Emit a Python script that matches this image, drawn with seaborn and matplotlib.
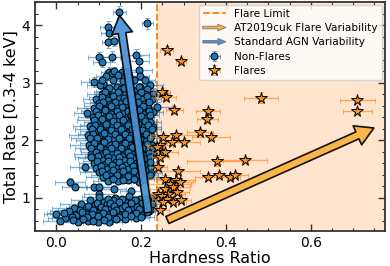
import matplotlib
matplotlib.use("Agg")
import matplotlib.pyplot as plt
import matplotlib.patches as mpatches
from matplotlib.lines import Line2D
from matplotlib.legend_handler import HandlerPatch
from matplotlib.ticker import MultipleLocator
import seaborn as sns

# Non-flare points: sparse top, dense cloud, a few stragglers, low band
nf_x = [0.149, 0.215, 0.121, 0.125, 0.123, 0.135, 0.131, 0.100, 0.107, 0.188,
        0.194, 0.196, 0.125, 0.131, 0.155, 0.089, 0.111, 0.229, 0.237, 0.072,
        0.103, 0.142, 0.171, 0.198, 0.221,
        0.118, 0.153, 0.186, 0.213,
        0.107, 0.131, 0.162, 0.191, 0.209,
        0.094, 0.121, 0.146, 0.176, 0.203, 0.226,
        0.101, 0.127, 0.152, 0.181, 0.206,
        0.088, 0.116, 0.141, 0.167, 0.192, 0.217,
        0.099, 0.129, 0.156, 0.182, 0.204, 0.227,
        0.086, 0.112, 0.137, 0.161, 0.188, 0.211,
        0.096, 0.121, 0.146, 0.171, 0.196, 0.222,
        0.079, 0.104, 0.131, 0.157, 0.179, 0.206, 0.228,
        0.091, 0.116, 0.139, 0.166, 0.191, 0.214,
        0.074, 0.101, 0.126, 0.149, 0.176, 0.199, 0.224,
        0.086, 0.109, 0.136, 0.161, 0.184, 0.211,
        0.078, 0.102, 0.124, 0.151, 0.174, 0.201, 0.226,
        0.091, 0.114, 0.141, 0.164, 0.189, 0.216,
        0.081, 0.106, 0.129, 0.156, 0.179, 0.204, 0.229,
        0.086, 0.111, 0.134, 0.159, 0.186, 0.209,
        0.089, 0.116, 0.141, 0.164, 0.191, 0.214,
        0.094, 0.119, 0.146, 0.169, 0.194, 0.221,
        0.101, 0.126, 0.149, 0.176, 0.199, 0.224,
        0.109, 0.136, 0.161, 0.184, 0.211,
        0.121, 0.146, 0.169, 0.196,
        0.033, 0.043, 0.088, 0.100, 0.100, 0.135, 0.175,
        0.101, 0.139, 0.171, 0.198, 0.224,
        0.079, 0.112, 0.134, 0.161, 0.189, 0.216,
        0.058, 0.091, 0.119, 0.151, 0.174, 0.201, 0.226,
        0.041, 0.069, 0.102, 0.126, 0.154, 0.181, 0.209,
        0.031, 0.056, 0.084, 0.111, 0.139, 0.166, 0.191, 0.219,
        0.000, 0.046, 0.071, 0.096, 0.121, 0.149, 0.176, 0.201,
        0.021, 0.061, 0.086, 0.109, 0.136, 0.161, 0.188,
        0.009, 0.051, 0.074, 0.099, 0.124]
nf_y = [4.23, 4.03, 3.97, 3.87, 3.71, 3.72, 3.45, 3.44, 3.36, 3.48,
        3.37, 3.22, 3.19, 3.17, 3.19, 3.01, 2.98, 2.81, 2.58, 2.47,
        2.96, 2.93, 2.97, 2.92, 2.95,
        2.86, 2.89, 2.85, 2.88,
        2.80, 2.77, 2.81, 2.78, 2.80,
        2.72, 2.70, 2.73, 2.69, 2.72, 2.71,
        2.64, 2.62, 2.65, 2.61, 2.63,
        2.56, 2.54, 2.57, 2.53, 2.56, 2.55,
        2.48, 2.45, 2.47, 2.49, 2.46, 2.48,
        2.40, 2.38, 2.41, 2.37, 2.40, 2.39,
        2.32, 2.30, 2.33, 2.29, 2.31, 2.32,
        2.24, 2.22, 2.25, 2.21, 2.24, 2.22, 2.23,
        2.16, 2.14, 2.17, 2.13, 2.16, 2.15,
        2.08, 2.06, 2.09, 2.05, 2.08, 2.06, 2.07,
        2.00, 1.98, 2.01, 1.97, 2.00, 1.99,
        1.92, 1.90, 1.93, 1.89, 1.92, 1.90, 1.91,
        1.84, 1.82, 1.85, 1.81, 1.84, 1.83,
        1.76, 1.74, 1.77, 1.73, 1.76, 1.74, 1.75,
        1.68, 1.66, 1.69, 1.65, 1.68, 1.67,
        1.60, 1.58, 1.61, 1.57, 1.60, 1.59,
        1.52, 1.50, 1.53, 1.49, 1.52, 1.51,
        1.44, 1.42, 1.45, 1.41, 1.44, 1.43,
        1.36, 1.34, 1.37, 1.33, 1.35,
        1.29, 1.28, 1.30, 1.27,
        1.27, 1.19, 1.18, 1.19, 1.07, 1.15, 1.12,
        1.01, 0.99, 1.02, 0.98, 1.00,
        0.95, 0.93, 0.96, 0.92, 0.94, 0.95,
        0.88, 0.87, 0.89, 0.86, 0.88, 0.87, 0.89,
        0.82, 0.81, 0.83, 0.80, 0.82, 0.81, 0.83,
        0.76, 0.75, 0.77, 0.74, 0.76, 0.75, 0.77, 0.76,
        0.72, 0.70, 0.71, 0.69, 0.71, 0.70, 0.72, 0.69,
        0.64, 0.63, 0.65, 0.62, 0.64, 0.63, 0.65,
        0.60, 0.58, 0.59, 0.57, 0.58]
nf_xerr = [0.015, 0.012, 0.018, 0.02, 0.015, 0.014, 0.02, 0.025, 0.02, 0.03,
           0.025, 0.03, 0.02, 0.018, 0.022, 0.03, 0.028, 0.04, 0.035, 0.03,
           0.03, 0.02, 0.025, 0.02, 0.03,
           0.025, 0.02, 0.03, 0.025,
           0.035, 0.02, 0.025, 0.03, 0.02,
           0.03, 0.025, 0.02, 0.03, 0.025, 0.02,
           0.035, 0.02, 0.025, 0.02, 0.03,
           0.04, 0.025, 0.02, 0.03, 0.025, 0.02,
           0.03, 0.02, 0.025, 0.03, 0.02, 0.025,
           0.035, 0.025, 0.02, 0.025, 0.03, 0.02,
           0.03, 0.02, 0.025, 0.02, 0.03, 0.025,
           0.04, 0.03, 0.02, 0.025, 0.02, 0.03, 0.02,
           0.035, 0.025, 0.02, 0.03, 0.025, 0.02,
           0.045, 0.03, 0.025, 0.02, 0.03, 0.025, 0.02,
           0.04, 0.025, 0.02, 0.03, 0.02, 0.025,
           0.045, 0.03, 0.02, 0.025, 0.03, 0.02, 0.02,
           0.035, 0.025, 0.03, 0.02, 0.025, 0.02,
           0.04, 0.03, 0.025, 0.02, 0.03, 0.025, 0.02,
           0.035, 0.025, 0.02, 0.03, 0.025, 0.02,
           0.035, 0.02, 0.025, 0.03, 0.02, 0.025,
           0.04, 0.025, 0.02, 0.03, 0.025, 0.02,
           0.045, 0.03, 0.025, 0.02, 0.03, 0.025,
           0.04, 0.03, 0.025, 0.02, 0.03,
           0.035, 0.025, 0.03, 0.02,
           0.035, 0.03, 0.04, 0.03, 0.035, 0.03, 0.025,
           0.04, 0.035, 0.03, 0.025, 0.02,
           0.045, 0.035, 0.03, 0.025, 0.03, 0.02,
           0.05, 0.04, 0.035, 0.03, 0.025, 0.03, 0.02,
           0.05, 0.045, 0.035, 0.03, 0.025, 0.03, 0.02,
           0.045, 0.04, 0.035, 0.03, 0.035, 0.025, 0.03, 0.02,
           0.03, 0.045, 0.04, 0.035, 0.03, 0.035, 0.025, 0.02,
           0.04, 0.035, 0.04, 0.03, 0.035, 0.025, 0.03,
           0.04, 0.035, 0.03, 0.035, 0.03]
nf_yerr = [0.10, 0.10, 0.10, 0.09, 0.10, 0.09, 0.10, 0.09, 0.09, 0.10,
           0.09, 0.10, 0.08, 0.08, 0.09, 0.08, 0.08, 0.09, 0.08, 0.08,
           0.08, 0.07, 0.08, 0.07, 0.08,
           0.08, 0.07, 0.08, 0.07,
           0.07, 0.08, 0.07, 0.08, 0.07,
           0.08, 0.07, 0.08, 0.07, 0.08, 0.07,
           0.07, 0.08, 0.07, 0.08, 0.07,
           0.08, 0.07, 0.07, 0.08, 0.07, 0.07,
           0.07, 0.08, 0.07, 0.07, 0.08, 0.07,
           0.07, 0.07, 0.08, 0.07, 0.07, 0.08,
           0.07, 0.07, 0.07, 0.08, 0.07, 0.07,
           0.07, 0.06, 0.07, 0.07, 0.06, 0.07, 0.07,
           0.07, 0.07, 0.06, 0.07, 0.07, 0.06,
           0.07, 0.06, 0.07, 0.06, 0.07, 0.06, 0.07,
           0.06, 0.07, 0.06, 0.07, 0.06, 0.07,
           0.06, 0.07, 0.06, 0.06, 0.07, 0.06, 0.06,
           0.06, 0.06, 0.07, 0.06, 0.06, 0.06,
           0.06, 0.06, 0.06, 0.07, 0.06, 0.06, 0.06,
           0.06, 0.06, 0.06, 0.06, 0.06, 0.06,
           0.06, 0.05, 0.06, 0.06, 0.05, 0.06,
           0.06, 0.05, 0.06, 0.05, 0.06, 0.05,
           0.05, 0.06, 0.05, 0.05, 0.06, 0.05,
           0.05, 0.05, 0.06, 0.05, 0.05,
           0.05, 0.05, 0.05, 0.05,
           0.07, 0.06, 0.06, 0.06, 0.06, 0.06, 0.06,
           0.05, 0.05, 0.05, 0.05, 0.05,
           0.05, 0.05, 0.05, 0.05, 0.05, 0.05,
           0.05, 0.05, 0.04, 0.05, 0.05, 0.04, 0.05,
           0.05, 0.04, 0.05, 0.04, 0.05, 0.04, 0.05,
           0.04, 0.05, 0.04, 0.05, 0.04, 0.05, 0.04, 0.05,
           0.04, 0.05, 0.04, 0.04, 0.05, 0.04, 0.04, 0.05,
           0.04, 0.04, 0.05, 0.04, 0.04, 0.05, 0.04,
           0.04, 0.04, 0.04, 0.04, 0.04]

# more non-flare points filling the gaps of the dense cloud and low band
core_x = [0.135, 0.165,
          0.118, 0.145, 0.172, 0.198,
          0.108, 0.133, 0.158, 0.183, 0.208,
          0.125, 0.160, 0.195,
          0.115, 0.145, 0.175, 0.200,
          0.108, 0.133, 0.160, 0.190, 0.215,
          0.110, 0.138, 0.165, 0.193, 0.218,
          0.100, 0.128, 0.155, 0.180, 0.205,
          0.093, 0.115, 0.142, 0.170, 0.195, 0.218,
          0.098, 0.124, 0.149, 0.175, 0.200, 0.222,
          0.088, 0.108, 0.133, 0.158, 0.183, 0.209,
          0.092, 0.118, 0.143, 0.168, 0.193, 0.216,
          0.084, 0.103, 0.128, 0.153, 0.178, 0.203, 0.226,
          0.087, 0.113, 0.138, 0.163, 0.188, 0.212,
          0.080, 0.097, 0.122, 0.148, 0.172, 0.198, 0.222,
          0.090, 0.113, 0.138, 0.163, 0.188, 0.213,
          0.083, 0.103, 0.128, 0.153, 0.178, 0.203, 0.227,
          0.093, 0.118, 0.143, 0.168, 0.193, 0.218,
          0.083, 0.098, 0.123, 0.148, 0.173, 0.198, 0.222,
          0.097, 0.123, 0.148, 0.173, 0.198, 0.222,
          0.068, 0.106, 0.131, 0.156, 0.181, 0.206,
          0.108, 0.133, 0.158, 0.183, 0.208,
          0.118, 0.143, 0.170, 0.196, 0.220,
          0.133, 0.158, 0.183, 0.206,
          0.122, 0.155, 0.185, 0.212,
          0.097, 0.126, 0.148, 0.176, 0.203,
          0.075, 0.106, 0.137, 0.163, 0.190, 0.215,
          0.055, 0.086, 0.114, 0.141, 0.168, 0.195, 0.222,
          0.018, 0.060, 0.085, 0.109, 0.134, 0.162, 0.188, 0.213,
          0.036, 0.073, 0.098, 0.122, 0.148, 0.175, 0.200,
          0.040, 0.063, 0.087, 0.112, 0.140]
core_y = [3.20, 3.18,
          3.12, 3.13, 3.11, 3.12,
          3.04, 3.05, 3.03, 3.04, 3.05,
          2.91, 2.90, 2.92,
          2.83, 2.84, 2.82, 2.83,
          2.75, 2.76, 2.74, 2.75, 2.76,
          2.67, 2.66, 2.68, 2.67, 2.66,
          2.59, 2.60, 2.58, 2.59, 2.60,
          2.51, 2.52, 2.50, 2.51, 2.52, 2.50,
          2.43, 2.42, 2.44, 2.43, 2.42, 2.44,
          2.35, 2.36, 2.34, 2.35, 2.36, 2.34,
          2.27, 2.28, 2.26, 2.27, 2.28, 2.26,
          2.19, 2.20, 2.18, 2.19, 2.20, 2.18, 2.19,
          2.11, 2.12, 2.10, 2.11, 2.12, 2.10,
          2.03, 2.04, 2.02, 2.03, 2.04, 2.02, 2.03,
          1.95, 1.96, 1.94, 1.95, 1.96, 1.94,
          1.87, 1.88, 1.86, 1.87, 1.88, 1.86, 1.87,
          1.79, 1.80, 1.78, 1.79, 1.80, 1.78,
          1.71, 1.72, 1.70, 1.71, 1.72, 1.70, 1.71,
          1.63, 1.64, 1.62, 1.63, 1.64, 1.62,
          1.53, 1.55, 1.56, 1.54, 1.55, 1.56,
          1.47, 1.48, 1.46, 1.47, 1.48,
          1.39, 1.40, 1.38, 1.39, 1.40,
          1.32, 1.31, 1.33, 1.32,
          0.97, 0.98, 0.96, 0.97,
          0.91, 0.90, 0.92, 0.91, 0.90,
          0.85, 0.84, 0.86, 0.85, 0.84, 0.86,
          0.79, 0.78, 0.80, 0.79, 0.78, 0.80, 0.79,
          0.73, 0.74, 0.72, 0.73, 0.74, 0.72, 0.73, 0.74,
          0.67, 0.66, 0.68, 0.67, 0.66, 0.68, 0.67,
          0.61, 0.62, 0.60, 0.61, 0.62]
core_xerr = [0.02, 0.025,
             0.025, 0.02, 0.025, 0.02,
             0.03, 0.02, 0.025, 0.02, 0.025,
             0.02, 0.025, 0.02,
             0.025, 0.02, 0.025, 0.02,
             0.03, 0.02, 0.025, 0.02, 0.025,
             0.03, 0.025, 0.02, 0.025, 0.02,
             0.035, 0.02, 0.025, 0.02, 0.025,
             0.035, 0.025, 0.02, 0.025, 0.02, 0.025,
             0.03, 0.025, 0.02, 0.025, 0.02, 0.02,
             0.04, 0.025, 0.02, 0.025, 0.02, 0.025,
             0.035, 0.025, 0.02, 0.025, 0.02, 0.02,
             0.04, 0.03, 0.025, 0.02, 0.025, 0.02, 0.02,
             0.035, 0.025, 0.02, 0.025, 0.02, 0.025,
             0.045, 0.03, 0.025, 0.02, 0.025, 0.02, 0.02,
             0.035, 0.025, 0.02, 0.025, 0.02, 0.025,
             0.04, 0.03, 0.025, 0.02, 0.025, 0.02, 0.02,
             0.035, 0.025, 0.02, 0.025, 0.02, 0.025,
             0.04, 0.03, 0.025, 0.02, 0.025, 0.02, 0.02,
             0.035, 0.025, 0.02, 0.025, 0.02, 0.02,
             0.035, 0.04, 0.025, 0.02, 0.025, 0.02,
             0.04, 0.025, 0.02, 0.025, 0.02,
             0.035, 0.025, 0.02, 0.025, 0.02,
             0.035, 0.025, 0.02, 0.025,
             0.035, 0.03, 0.025, 0.02,
             0.04, 0.035, 0.03, 0.025, 0.02,
             0.045, 0.04, 0.035, 0.03, 0.025, 0.02,
             0.05, 0.04, 0.035, 0.03, 0.025, 0.03, 0.02,
             0.04, 0.045, 0.04, 0.035, 0.03, 0.025, 0.03, 0.02,
             0.045, 0.04, 0.035, 0.03, 0.035, 0.025, 0.03,
             0.04, 0.035, 0.04, 0.03, 0.035]
core_yerr = [0.08, 0.08,
             0.08, 0.07, 0.08, 0.07,
             0.07, 0.08, 0.07, 0.08, 0.07,
             0.07, 0.07, 0.07,
             0.07, 0.07, 0.07, 0.07,
             0.07, 0.07, 0.07, 0.07, 0.07,
             0.07, 0.07, 0.07, 0.07, 0.07,
             0.07, 0.07, 0.07, 0.07, 0.07,
             0.07, 0.07, 0.07, 0.07, 0.07, 0.07,
             0.07, 0.07, 0.07, 0.07, 0.07, 0.07,
             0.06, 0.07, 0.06, 0.07, 0.06, 0.07,
             0.06, 0.07, 0.06, 0.07, 0.06, 0.07,
             0.06, 0.06, 0.06, 0.06, 0.06, 0.06, 0.06,
             0.06, 0.06, 0.06, 0.06, 0.06, 0.06,
             0.06, 0.06, 0.06, 0.06, 0.06, 0.06, 0.06,
             0.06, 0.06, 0.06, 0.06, 0.06, 0.06,
             0.06, 0.06, 0.06, 0.06, 0.06, 0.06, 0.06,
             0.06, 0.06, 0.06, 0.06, 0.06, 0.06,
             0.06, 0.06, 0.06, 0.06, 0.06, 0.06, 0.06,
             0.05, 0.06, 0.05, 0.06, 0.05, 0.06,
             0.06, 0.05, 0.06, 0.05, 0.06, 0.05,
             0.05, 0.05, 0.05, 0.05, 0.05,
             0.05, 0.05, 0.05, 0.05, 0.05,
             0.05, 0.05, 0.05, 0.05,
             0.05, 0.05, 0.05, 0.05,
             0.05, 0.05, 0.05, 0.05, 0.05,
             0.05, 0.04, 0.05, 0.04, 0.05, 0.04,
             0.04, 0.05, 0.04, 0.05, 0.04, 0.05, 0.04,
             0.04, 0.04, 0.05, 0.04, 0.04, 0.05, 0.04, 0.04,
             0.04, 0.04, 0.04, 0.04, 0.04, 0.04, 0.04,
             0.04, 0.04, 0.04, 0.04, 0.04]

# Flare points
fl_x = [0.260, 0.294, 0.249, 0.258, 0.278, 0.358, 0.356, 0.483, 0.339, 0.365,
        0.282, 0.252, 0.300, 0.272, 0.245, 0.237, 0.256, 0.245, 0.378, 0.445,
        0.240, 0.288, 0.358, 0.384, 0.409, 0.421, 0.256, 0.282, 0.292, 0.268,
        0.276, 0.256, 0.284, 0.264, 0.240, 0.249, 0.260, 0.276, 0.293, 0.252,
        0.245, 0.710, 0.710]
fl_y = [3.57, 3.37, 2.84, 2.75, 2.53, 2.51, 2.37, 2.74, 2.14, 2.05,
        2.08, 2.06, 1.97, 1.97, 1.91, 1.88, 1.79, 1.70, 1.63, 1.65,
        1.53, 1.47, 1.36, 1.40, 1.35, 1.40, 1.33, 1.30, 1.27, 1.24,
        1.18, 1.15, 1.09, 1.06, 1.07, 1.03, 0.98, 0.93, 0.95, 0.92,
        0.79, 2.70, 2.51]
fl_xerr = [0.015, 0.012, 0.02, 0.025, 0.02, 0.028, 0.025, 0.04, 0.03, 0.045,
           0.06, 0.03, 0.04, 0.035, 0.03, 0.02, 0.03, 0.02, 0.07, 0.052,
           0.02, 0.05, 0.03, 0.04, 0.025, 0.03, 0.04, 0.045, 0.03, 0.05,
           0.04, 0.035, 0.03, 0.04, 0.02, 0.03, 0.035, 0.03, 0.025, 0.03,
           0.02, 0.042, 0.035]
fl_yerr = [0.06, 0.06, 0.07, 0.07, 0.07, 0.07, 0.07, 0.10, 0.06, 0.07,
           0.06, 0.06, 0.06, 0.06, 0.06, 0.06, 0.06, 0.06, 0.08, 0.05,
           0.06, 0.06, 0.06, 0.06, 0.06, 0.05, 0.06, 0.06, 0.05, 0.05,
           0.05, 0.05, 0.05, 0.05, 0.05, 0.05, 0.05, 0.05, 0.05, 0.05,
           0.05, 0.05, 0.05]

flare_limit = 0.238
agn_arrow = [(0.217, 0.74), (0.149, 4.17)]     # tail, tip
flare_arrow = [(0.262, 0.61), (0.749, 2.21)]   # tail, tip

BLUE = "#1f77b4"
ORANGE = "#ff7f0e"
STAR = "#f7941e"
AGN_ARROW = "#4a90d4"
FLARE_ARROW = "#fbb240"


def legend_arrow(legend, orig_handle, xdescent, ydescent, width, height, fontsize):
    return mpatches.FancyArrow(0, 0.5 * height, width, 0, width=0.35 * height,
                               head_width=0.9 * height, head_length=0.35 * width,
                               length_includes_head=True)


sns.set_theme(style="ticks")
plt.rcParams["font.family"] = ["DejaVu Sans"]
plt.rcParams["text.color"] = "black"
plt.rcParams["axes.labelcolor"] = "black"
plt.rcParams["xtick.labelcolor"] = "black"
plt.rcParams["ytick.labelcolor"] = "black"

fig = plt.figure(figsize=(3.9, 2.66), dpi=100)
ax = fig.add_axes([0.09, 0.132, 0.897, 0.86])

ax.set_xlim(-0.05, 0.775)
ax.set_ylim(0.42, 4.4)

# flare region
ax.axvspan(flare_limit, 0.775, color=ORANGE, alpha=0.2, lw=0, zorder=0)
ax.axvline(flare_limit, color=ORANGE, ls="--", lw=1.3, zorder=1)

ax.errorbar(nf_x + core_x, nf_y + core_y, xerr=nf_xerr + core_xerr,
            yerr=nf_yerr + core_yerr, fmt="o", ms=5, mfc=BLUE, mec="black",
            mew=0.7, ecolor=(0.12, 0.47, 0.71, 0.55), elinewidth=1, capsize=1.8,
            zorder=2, label="Non-Flares")
ax.errorbar(fl_x, fl_y, xerr=fl_xerr, yerr=fl_yerr, fmt="*", ms=8.5,
            mfc=STAR, mec="black", mew=0.7, ecolor=(1.0, 0.5, 0.05, 0.6),
            elinewidth=1, capsize=1.8, zorder=3, label="Flares")

for (tail, tip), col in [(agn_arrow, AGN_ARROW), (flare_arrow, FLARE_ARROW)]:
    ax.annotate("", xy=tip, xytext=tail,
                arrowprops=dict(arrowstyle="simple,head_length=13,head_width=15,tail_width=5.5",
                                mutation_scale=1, fc=col, ec="black", lw=1.2,
                                shrinkA=0, shrinkB=0, alpha=0.92),
                zorder=5)

ax.set_xlabel("Hardness Ratio", fontsize=11.5, labelpad=1)
ax.set_ylabel("Total Rate [0.3-4 keV]", fontsize=11.5, labelpad=2)

ax.xaxis.set_major_locator(MultipleLocator(0.2))
ax.xaxis.set_minor_locator(MultipleLocator(0.05))
ax.yaxis.set_major_locator(MultipleLocator(1))
ax.yaxis.set_minor_locator(MultipleLocator(0.2))
ax.tick_params(which="both", direction="in", top=True, right=True,
               labelsize=10, color="#333333")
ax.tick_params(which="major", length=5, width=1)
ax.tick_params(which="minor", length=2.5, width=0.8)
for sp in ax.spines.values():
    sp.set_color("#333333")
    sp.set_linewidth(1.3)

handles = [
    Line2D([], [], color=ORANGE, ls="--", lw=1.3),
    mpatches.FancyArrow(0, 0, 1, 0, fc=FLARE_ARROW, ec="#777777", lw=0.6),
    mpatches.FancyArrow(0, 0, 1, 0, fc=AGN_ARROW, ec="#777777", lw=0.6),
]
labels = ["Flare Limit", "AT2019cuk Flare Variability", "Standard AGN Variability"]
h, l = ax.get_legend_handles_labels()
handles += h
labels += l
ax.legend(handles, labels, loc="upper right", fontsize=7.6, framealpha=0.8,
          borderaxespad=0.25, handlelength=2.2, labelspacing=0.4,
          handler_map={mpatches.FancyArrow: HandlerPatch(patch_func=legend_arrow)})

fig.savefig("out.png", dpi=100)
